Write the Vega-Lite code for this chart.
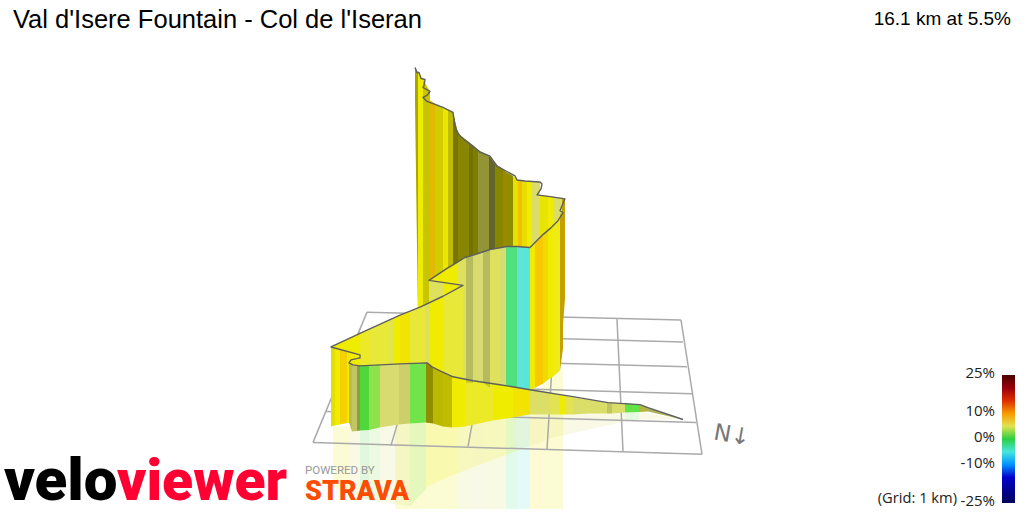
{
"$schema":"https://vega.github.io/schema/vega-lite/v6.json",
"width":1024,"height":512,"padding":0,"autosize":{"type":"fit","contains":"padding"},
"background":"white","view":{"stroke":null},
"datasets":{
"bands":[
{"w":"R","b":1,"g":7,"k":0,"x":[395,430],"y":[420,420],"y0":[512,512]},
{"w":"R","b":2,"g":7,"k":0,"x":[430,458],"y":[420,420],"y0":[512,512]},
{"w":"R","b":3,"g":4.5,"k":0,"x":[458,473],"y":[420,420],"y0":[512,512]},
{"w":"R","b":4,"g":3.5,"k":0,"x":[473,483],"y":[420,420],"y0":[512,512]},
{"w":"R","b":5,"g":4.5,"k":0,"x":[483,506],"y":[420,418],"y0":[512,512]},
{"w":"R","b":6,"g":-0.8,"k":0,"x":[506,517],"y":[418,418],"y0":[512,512]},
{"w":"R","b":7,"g":-4,"k":0,"x":[517,530],"y":[418,415],"y0":[512,512]},
{"w":"R","b":8,"g":7.5,"k":0,"x":[530,543],"y":[415,388],"y0":[512,512]},
{"w":"R","b":9,"g":7,"k":0,"x":[543,563],"y":[388,372],"y0":[512,512]},
{"w":"R","b":10,"g":7,"k":0,"x":[333,350],"y":[429,429],"y0":[490,497]},
{"w":"R","b":11,"g":3.7,"k":0,"x":[350,360],"y":[430,432],"y0":[497,500]},
{"w":"R","b":12,"g":1,"k":0,"x":[360,369],"y":[432,432],"y0":[500,503]},
{"w":"R","b":13,"g":2,"k":0,"x":[369,380],"y":[432,430],"y0":[503,505]},
{"w":"R","b":14,"g":3.5,"k":0,"x":[380,410],"y":[430,426],"y0":[505,509]},
{"w":"R","b":15,"g":1.6,"k":0,"x":[410,426],"y":[426,425],"y0":[509,492]},
{"w":"R","b":16,"g":7,"k":0,"x":[426,452],"y":[425,430],"y0":[490,478]},
{"w":"R","b":17,"g":7,"k":0,"x":[452,513],"y":[430,420],"y0":[478,455]},
{"w":"R","b":18,"g":4.5,"k":0,"x":[513,553],"y":[420,417],"y0":[455,440]},
{"w":"R","b":19,"g":4,"k":0,"x":[553,625],"y":[417,415],"y0":[440,424]},
{"w":"R","b":20,"g":1.4,"k":0,"x":[625,639],"y":[415,414],"y0":[424,422]},
{"w":"R","b":21,"g":3.7,"k":0,"x":[639,683],"y":[414,422],"y0":[422,422]},

{"w":"A","b":31,"g":7,"k":0.3,"x":[415,418],"y":[68,73],"y0":[100,318]},
{"w":"A","b":32,"g":7,"k":0,"x":[418,423],"y":[73,79],"y0":[318,330]},
{"w":"A","b":33,"g":7,"k":0.17,"x":[423,430],"y":[80,92],"y0":[330,330]},
{"w":"A","b":34,"g":8.3,"k":0.07,"x":[430,435],"y":[101,104],"y0":[330,330]},
{"w":"A","b":35,"g":7,"k":0.13,"x":[435,443],"y":[104,108],"y0":[330,330]},
{"w":"A","b":36,"g":7,"k":0.02,"x":[443,448],"y":[108,110.5],"y0":[330,330]},
{"w":"A","b":37,"g":7,"k":0.2,"x":[448,453],"y":[110.5,113],"y0":[330,330]},
{"w":"A","b":38,"g":7,"k":0.5,"x":[453,458],"y":[113,134],"y0":[330,330]},
{"w":"A","b":39,"g":7,"k":0.43,"x":[458,469],"y":[134,143],"y0":[330,330]},
{"w":"A","b":40,"g":7,"k":0.52,"x":[469,473],"y":[143,147],"y0":[330,330]},
{"w":"A","b":41,"g":7,"k":0.47,"x":[473,478],"y":[147,151],"y0":[330,330]},
{"w":"A","b":42,"g":5,"k":0.35,"x":[478,489],"y":[151,156.5],"y0":[330,330]},
{"w":"A","b":43,"g":4.5,"k":0.55,"x":[489,495],"y":[156.5,165],"y0":[330,330]},
{"w":"A","b":44,"g":7,"k":0.43,"x":[495,503],"y":[165,170],"y0":[330,330]},
{"w":"A","b":45,"g":8,"k":0.35,"x":[503,506],"y":[170,173],"y0":[330,330]},
{"w":"A","b":46,"g":7,"k":0.4,"x":[506,513],"y":[173,177],"y0":[330,330]},
{"w":"A","b":47,"g":7,"k":0.04,"x":[513,518],"y":[177,181],"y0":[330,330]},
{"w":"A","b":48,"g":8.3,"k":0.03,"x":[518,522],"y":[181,182],"y0":[330,330]},
{"w":"A","b":49,"g":7.3,"k":0.03,"x":[522,527],"y":[182,182],"y0":[330,330]},
{"w":"A","b":50,"g":7,"k":0,"x":[527,532],"y":[182,182],"y0":[330,330]},
{"w":"A","b":51,"g":3.8,"k":0,"x":[532,540],"y":[182,183],"y0":[330,330]},
{"w":"A","b":52,"g":7,"k":0.03,"x":[540,548],"y":[197,197],"y0":[330,330]},
{"w":"A","b":53,"g":7,"k":0,"x":[548,553],"y":[197,198],"y0":[330,330]},
{"w":"A","b":54,"g":3.9,"k":0,"x":[553,562],"y":[198,199],"y0":[330,340]},
{"w":"A","b":55,"g":8.3,"k":0.2,"x":[562,565],"y":[199,200],"y0":[340,300]},

{"w":"F","b":61,"g":7,"k":0,"x":[429,443],"y":[282,273],"y0":[375,375]},
{"w":"F","b":62,"g":7,"k":0,"x":[443,458],"y":[273,264],"y0":[375,380]},
{"w":"F","b":63,"g":4.5,"k":0,"x":[458,466],"y":[264,258.5],"y0":[380,385]},
{"w":"F","b":64,"g":3.6,"k":0.15,"x":[466,473],"y":[258.5,256],"y0":[385,385]},
{"w":"F","b":65,"g":3.5,"k":0,"x":[473,483],"y":[256,254],"y0":[385,385]},
{"w":"F","b":66,"g":3.6,"k":0.15,"x":[483,490],"y":[254,251],"y0":[385,390]},
{"w":"F","b":67,"g":4.5,"k":0,"x":[490,500],"y":[251,249.5],"y0":[390,390]},
{"w":"F","b":68,"g":3.6,"k":0,"x":[500,506],"y":[249.5,248],"y0":[390,392]},
{"w":"F","b":69,"g":-0.8,"k":0,"x":[506,517],"y":[248,248],"y0":[392,392]},
{"w":"F","b":70,"g":-3.8,"k":0,"x":[517,524],"y":[248,249],"y0":[392,392]},
{"w":"F","b":71,"g":-4.2,"k":0,"x":[524,530],"y":[249,249],"y0":[392,392]},
{"w":"F","b":72,"g":7,"k":0,"x":[530,535],"y":[249,244],"y0":[392,390]},
{"w":"F","b":73,"g":8.3,"k":0,"x":[535,543],"y":[244,236],"y0":[390,386]},
{"w":"F","b":74,"g":7.7,"k":0,"x":[543,548],"y":[236,231],"y0":[386,382]},
{"w":"F","b":75,"g":7,"k":0,"x":[548,553],"y":[231,226],"y0":[382,379]},
{"w":"F","b":76,"g":6.8,"k":0,"x":[553,560],"y":[226,216],"y0":[379,373]},
{"w":"F","b":77,"g":8.3,"k":0.2,"x":[560,563],"y":[216,214],"y0":[373,350]},

{"w":"F","b":81,"g":4.5,"k":0,"x":[429,443],"y":[282,284],"y0":[380,380]},
{"w":"F","b":82,"g":7,"k":0,"x":[443,458],"y":[284,286.5],"y0":[380,380]},
{"w":"F","b":83,"g":4.5,"k":0,"x":[458,463],"y":[286.5,287],"y0":[380,380]},

{"w":"F","b":91,"g":7,"k":0,"x":[331,345],"y":[349,342],"y0":[395,395]},
{"w":"F","b":92,"g":7,"k":0,"x":[345,360],"y":[342,335],"y0":[395,395]},
{"w":"F","b":93,"g":6.5,"k":0,"x":[360,370],"y":[335,331],"y0":[395,395]},
{"w":"F","b":94,"g":6,"k":0,"x":[370,390],"y":[331,321],"y0":[395,395]},
{"w":"F","b":95,"g":5,"k":0,"x":[390,393],"y":[321,320],"y0":[395,395]},
{"w":"F","b":96,"g":7,"k":0,"x":[393,400],"y":[320,317],"y0":[395,395]},
{"w":"F","b":97,"g":7.3,"k":0,"x":[400,410],"y":[317,313],"y0":[395,395]},
{"w":"F","b":98,"g":6,"k":0,"x":[410,425],"y":[313,306],"y0":[395,395]},
{"w":"F","b":99,"g":4.5,"k":0,"x":[425,430],"y":[306,304],"y0":[395,395]},
{"w":"F","b":100,"g":7,"k":0,"x":[430,443],"y":[304,298],"y0":[395,395]},
{"w":"F","b":101,"g":6,"k":0,"x":[443,463],"y":[298,287],"y0":[395,395]},

{"w":"F","b":111,"g":7,"k":0.05,"x":[331,335],"y":[349,350],"y0":[429,428]},
{"w":"F","b":112,"g":7,"k":0,"x":[335,340],"y":[350,351.5],"y0":[428,427]},
{"w":"F","b":113,"g":8,"k":0,"x":[340,347],"y":[351.5,353.5],"y0":[427,425.5]},
{"w":"F","b":114,"g":7,"k":0,"x":[347,360],"y":[353.5,357],"y0":[425.5,425]},

{"w":"F","b":121,"g":3.7,"k":0.15,"x":[349,352],"y":[365,367],"y0":[425,434]},
{"w":"F","b":122,"g":3.7,"k":0.1,"x":[352,357],"y":[367,368],"y0":[434,433.5]},
{"w":"F","b":123,"g":3.3,"k":0.3,"x":[357,360],"y":[368,368],"y0":[433.5,433]},
{"w":"F","b":124,"g":1,"k":0,"x":[360,369],"y":[368,368],"y0":[433,432.5]},
{"w":"F","b":125,"g":2,"k":0,"x":[369,380],"y":[368,367],"y0":[432.5,430]},
{"w":"F","b":126,"g":3.5,"k":0,"x":[380,399],"y":[367,366.5],"y0":[430,427]},
{"w":"F","b":127,"g":3.5,"k":0.05,"x":[399,410],"y":[366.5,366],"y0":[427,426]},
{"w":"F","b":128,"g":1.6,"k":0,"x":[410,426],"y":[366,365],"y0":[426,425]},
{"w":"F","b":129,"g":7,"k":0.4,"x":[426,433],"y":[365,370],"y0":[425,426]},
{"w":"F","b":130,"g":7,"k":0.22,"x":[433,443],"y":[370,374],"y0":[426,429]},
{"w":"F","b":131,"g":7,"k":0.2,"x":[443,452],"y":[374,379],"y0":[429,430]},
{"w":"F","b":132,"g":7,"k":0,"x":[452,465],"y":[379,381.5],"y0":[430,429]},
{"w":"F","b":133,"g":6.5,"k":0,"x":[465,493],"y":[381.5,386],"y0":[429,423]},
{"w":"F","b":134,"g":7,"k":0,"x":[493,513],"y":[386,389],"y0":[423,420]},
{"w":"F","b":135,"g":7.3,"k":0,"x":[513,530],"y":[389,391.5],"y0":[420,417]},
{"w":"F","b":136,"g":4.2,"k":0,"x":[530,535],"y":[391.5,392],"y0":[417,417]},
{"w":"F","b":137,"g":4,"k":0,"x":[535,550],"y":[392,395],"y0":[417,417]},
{"w":"F","b":138,"g":5,"k":0,"x":[550,560],"y":[395,397],"y0":[417,417]},
{"w":"F","b":139,"g":7,"k":0,"x":[560,566],"y":[397,398],"y0":[417,417]},
{"w":"F","b":140,"g":5,"k":0,"x":[566,573],"y":[398,399],"y0":[417,417]},
{"w":"F","b":141,"g":3.8,"k":0,"x":[573,580],"y":[399,400.5],"y0":[417,416.5]},
{"w":"F","b":142,"g":4,"k":0,"x":[580,590],"y":[400.5,402],"y0":[416.5,416]},
{"w":"F","b":143,"g":3.8,"k":0,"x":[590,607],"y":[402,405],"y0":[416,416]},
{"w":"F","b":144,"g":3.7,"k":0.1,"x":[607,612],"y":[405,405],"y0":[416,416]},
{"w":"F","b":145,"g":3.8,"k":0,"x":[612,625],"y":[405,405.5],"y0":[416,415]},
{"w":"F","b":146,"g":1.4,"k":0,"x":[625,639],"y":[405.5,407],"y0":[415,414.5]},
{"w":"F","b":147,"g":5,"k":0.2,"x":[639,648],"y":[407,410],"y0":[414.5,414]},
{"w":"F","b":148,"g":3.7,"k":0.2,"x":[648,683],"y":[410,422],"y0":[414,422]}
],
"outline":[
{"i":1,"x":415,"y":68},{"i":2,"x":417,"y":73},{"i":3,"x":419,"y":73},{"i":4,"x":421,"y":79},{"i":5,"x":425,"y":80},{"i":6,"x":424,"y":86},{"i":7,"x":423,"y":88},{"i":8,"x":430,"y":92},{"i":9,"x":427,"y":96},{"i":10,"x":423,"y":98},{"i":11,"x":427,"y":102},{"i":12,"x":435,"y":105},{"i":13,"x":443,"y":108},{"i":14,"x":453,"y":113},{"i":15,"x":454,"y":120},{"i":16,"x":455,"y":127},{"i":17,"x":457,"y":132},{"i":18,"x":460,"y":137},{"i":19,"x":465,"y":141},{"i":20,"x":473,"y":147},{"i":21,"x":480,"y":153},{"i":22,"x":490,"y":157},{"i":23,"x":497,"y":167},{"i":24,"x":506,"y":172},{"i":25,"x":515,"y":177},{"i":26,"x":517,"y":181},{"i":27,"x":525,"y":182},{"i":28,"x":540,"y":183},{"i":29,"x":542,"y":185},{"i":30,"x":541,"y":190},{"i":31,"x":537,"y":196},{"i":32,"x":552,"y":198},{"i":33,"x":565,"y":200},{"i":34,"x":562,"y":207},{"i":35,"x":560,"y":212},{"i":36,"x":563,"y":214},{"i":37,"x":558,"y":222},{"i":38,"x":550,"y":230},{"i":39,"x":543,"y":236},{"i":40,"x":530,"y":249},{"i":41,"x":517,"y":248},{"i":42,"x":507,"y":248},{"i":43,"x":490,"y":251},{"i":44,"x":475,"y":256},{"i":45,"x":465,"y":259},{"i":46,"x":447,"y":270},{"i":47,"x":429,"y":282},{"i":48,"x":463,"y":287},{"i":49,"x":443,"y":298},{"i":50,"x":420,"y":309},{"i":51,"x":400,"y":317},{"i":52,"x":367,"y":332},{"i":53,"x":331,"y":349},{"i":54,"x":360,"y":357},{"i":55,"x":360,"y":360},{"i":56,"x":351,"y":362},{"i":57,"x":349,"y":365},{"i":58,"x":353,"y":367},{"i":59,"x":360,"y":368},{"i":60,"x":400,"y":366},{"i":61,"x":427,"y":365},{"i":62,"x":432,"y":369},{"i":63,"x":440,"y":373},{"i":64,"x":453,"y":379},{"i":65,"x":473,"y":383},{"i":66,"x":500,"y":387},{"i":67,"x":530,"y":392},{"i":68,"x":560,"y":397},{"i":69,"x":573,"y":399},{"i":70,"x":608,"y":405},{"i":71,"x":640,"y":407},{"i":72,"x":648,"y":410},{"i":73,"x":683,"y":422}
],
"grid":[
{"x":367,"y":314,"x2":681,"y2":322},{"x":358,"y":335,"x2":683,"y2":344},{"x":348,"y":360,"x2":687,"y2":369},{"x":337,"y":386,"x2":692,"y2":396},{"x":326,"y":414,"x2":696,"y2":425},{"x":313,"y":445,"x2":702,"y2":457},
{"x":367,"y":314,"x2":313,"y2":445},{"x":430,"y":316,"x2":391,"y2":448},{"x":492,"y":318,"x2":468,"y2":449},{"x":555,"y":319,"x2":547,"y2":452},{"x":617,"y":321,"x2":623,"y2":454},{"x":681,"y":322,"x2":702,"y2":457}
]
},
"encoding":{
"x":{"field":"x","type":"quantitative","scale":{"domain":[0,1024],"nice":false,"zero":false},"axis":null},
"y":{"field":"y","type":"quantitative","stack":null,"scale":{"domain":[512,0],"nice":false,"zero":false},"axis":null},
"color":{"field":"g","type":"quantitative",
 "scale":{"domain":[-25,-13.5,-6.3,-3.8,-0.8,0.3,1.5,3.5,7,11.5,16,25],"range":["#00005a","#0000e0","#00e8e8","#60e4d8","#50e080","#20c820","#66e448","#d8dc70","#f0ec00","#f07000","#d80000","#4a0000"]},
 "legend":{"orient":"none","legendX":1002,"legendY":375,"gradientLength":128,"gradientThickness":13,"title":null,"values":[-25,-10,0,10,25],"labelExpr":"datum.value+'%'","labelOffset":-20,"labelAlign":"right","labelBaseline":"middle","labelFont":"Open Sans","labelFontSize":15,"labelColor":"#222222","labelOverlap":false,"encode":{"labels":{"update":{"align":{"value":"right"},"baseline":{"value":"middle"},"dy":{"value":-2}}}}}}
},
"layer":[
{"data":{"name":"bands"},"transform":[{"filter":"datum.w=='R'"},{"flatten":["x","y","y0"]}],
 "mark":{"type":"area","fillOpacity":0.17},"encoding":{"y2":{"field":"y0"},"detail":{"field":"b"}}},
{"data":{"name":"grid"},"mark":{"type":"rule","strokeWidth":1.5},"encoding":{"x2":{"field":"x2"},"y2":{"field":"y2"},"color":{"value":"#aaaaaa"}}},
{"data":{"name":"bands"},"transform":[{"filter":"datum.w=='A'"},{"flatten":["x","y","y0"]}],
 "mark":{"type":"area"},"encoding":{"y2":{"field":"y0"},"detail":{"field":"b"}}},
{"data":{"name":"bands"},"transform":[{"filter":"datum.w=='A'&&datum.k>0"},{"flatten":["x","y","y0"]}],
 "mark":{"type":"area"},"encoding":{"y2":{"field":"y0"},"detail":{"field":"b"},"color":{"value":"#000000"},"opacity":{"field":"k","type":"quantitative","scale":null,"legend":null}}},
{"data":{"name":"bands"},"transform":[{"filter":"datum.w=='F'"},{"flatten":["x","y","y0"]}],
 "mark":{"type":"area"},"encoding":{"y2":{"field":"y0"},"detail":{"field":"b"}}},
{"data":{"name":"bands"},"transform":[{"filter":"datum.w=='F'&&datum.k>0"},{"flatten":["x","y","y0"]}],
 "mark":{"type":"area"},"encoding":{"y2":{"field":"y0"},"detail":{"field":"b"},"color":{"value":"#000000"},"opacity":{"field":"k","type":"quantitative","scale":null,"legend":null}}},
{"data":{"name":"outline"},"mark":{"type":"line","strokeWidth":1.4,"strokeJoin":"round"},"encoding":{"order":{"field":"i"},"color":{"value":"#5f5f5f"}}},
{"data":{"values":[{"t":"Val d'Isere Fountain - Col de l'Iseran","x":13,"y":28}]},"mark":{"type":"text","align":"left","baseline":"alphabetic","font":"Liberation Sans","fontSize":25.5},"encoding":{"text":{"field":"t"},"color":{"value":"#000000"}}},
{"data":{"values":[{"t":"16.1 km at 5.5%","x":1011,"y":25}]},"mark":{"type":"text","align":"right","baseline":"alphabetic","font":"Liberation Sans","fontSize":19},"encoding":{"text":{"field":"t"},"color":{"value":"#000000"}}},
{"data":{"values":[{"t":"(Grid: 1 km)","x":957,"y":506}]},"mark":{"type":"text","align":"right","baseline":"alphabetic","font":"Open Sans","fontSize":14.7},"encoding":{"text":{"field":"t"},"color":{"value":"#222222"}}},
{"data":{"values":[{"t":"N↓","x":732,"y":438}]},"mark":{"type":"text","align":"center","baseline":"middle","font":"DejaVu Sans","fontSize":23,"angle":10},"encoding":{"text":{"field":"t"},"color":{"value":"#777777"}}},
{"data":{"values":[{"t":"velo","x":4,"y":503}]},"mark":{"type":"text","align":"left","baseline":"alphabetic","font":"Roboto","fontWeight":900,"fontSize":60},"encoding":{"text":{"field":"t"},"color":{"value":"#000000"}}},
{"data":{"values":[{"t":"viewer","x":117,"y":503}]},"mark":{"type":"text","align":"left","baseline":"alphabetic","font":"Roboto","fontWeight":900,"fontSize":57},"encoding":{"text":{"field":"t"},"color":{"value":"#ff0033"}}},
{"data":{"values":[{"t":"POWERED BY","x":305,"y":477}]},"mark":{"type":"text","align":"left","baseline":"alphabetic","font":"Roboto","fontSize":11.5},"encoding":{"text":{"field":"t"},"color":{"value":"#999999"}}},
{"data":{"values":[{"t":"STRAVA","x":305,"y":503}]},"mark":{"type":"text","align":"left","baseline":"alphabetic","font":"Roboto","fontWeight":900,"fontSize":27},"encoding":{"text":{"field":"t"},"color":{"value":"#fc4c02"}}}
]
}
